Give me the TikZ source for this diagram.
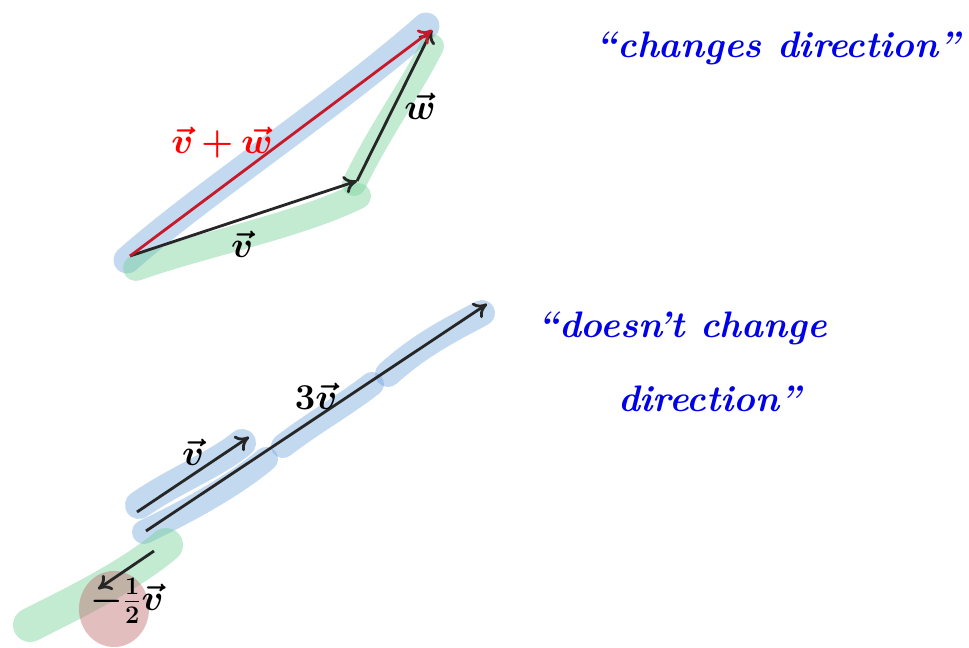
\documentclass[tikz,border=0pt]{standalone}
\usepackage{bm}
\usetikzlibrary{arrows.meta,positioning}

\definecolor{hlblue}{RGB}{110,165,220}
\definecolor{hlgreen}{RGB}{120,210,155}
\definecolor{hlred}{RGB}{190,110,110}
\definecolor{sumred}{RGB}{200,25,40}
\definecolor{penblue}{RGB}{0,0,235}

\begin{document}
\begin{tikzpicture}[
  x=0.02cm, y=-0.02cm,
  vec/.style={-{To[length=2.6mm,width=3.6mm]}, line width=1.6pt, draw=#1},
  vec/.default=black!85,
  hiblue/.style={line width=#1*0.02cm, line cap=round, line join=round, draw=hlblue, opacity=0.42},
  higreen/.style={line width=#1*0.02cm, line cap=round, line join=round, draw=hlgreen, opacity=0.45},
  lbl/.style={inner sep=1pt, font=\fontsize{21}{25}\selectfont},
  hand/.style={text=penblue, font=\fontsize{21}{26}\selectfont\bfseries\itshape, align=center}
]
  \useasboundingbox (0,0) rectangle (969,648);

  % highlighter strokes, top
  \draw[hiblue=27] (127,260) .. controls (200,195) and (330,110) .. (426,26);
  \draw[higreen=26] (136,268) .. controls (200,245) and (300,225) .. (358,196);
  \draw[higreen=24] (354,184) .. controls (380,130) and (410,90) .. (432,46);

  % highlighter strokes, bottom
  \draw[hiblue=28] (139,505) .. controls (175,480) and (215,465) .. (242,443);
  \draw[hiblue=24] (144,532) .. controls (190,510) and (235,485) .. (266,459);
  \draw[hiblue=24] (283,446) .. controls (310,425) and (345,405) .. (372,384);
  \draw[hiblue=26] (388,374) .. controls (420,345) and (450,330) .. (482,313);
  \draw[higreen=34] (30,625) .. controls (80,600) and (130,575) .. (166,545);
  \fill[hlred, opacity=0.45] (114,609) ellipse [x radius=35, y radius=38];

  % vector sum
  \coordinate (o) at (130,256);
  \coordinate (vtip) at (357,181);
  \coordinate (wtip) at (432,30);
  \draw[vec] (o) -- (vtip);
  \draw[vec] (vtip) -- (wtip);
  \draw[vec=sumred] (o) -- (wtip);
  \node[lbl] (vlabel) at (242,244) {$\bm{\vec v}$};
  \node[lbl] (wlabel) at (420,106) {$\bm{\vec w}$};
  \node[lbl, text=red] (sumlabel) at (222,143) {$\bm{\vec v + \vec w}$};

  % scalar multiples
  \coordinate (a0) at (137,512);
  \coordinate (a1) at (249,437);
  \coordinate (b0) at (146,531);
  \coordinate (b1) at (487,304);
  \coordinate (c0) at (154,551);
  \coordinate (c1) at (98,589);
  \draw[vec] (a0) -- (a1);
  \draw[vec] (b0) -- (b1);
  \draw[vec] (c0) -- (c1);
  \node[lbl] (alabel) at (193,452) {$\bm{\vec v}$};
  \node[lbl] (blabel) at (316,396) {$\bm{3\vec v}$};
  \node[lbl] (clabel) at (127,601) {$\bm{-\frac{1}{2}\vec v}$};

  % handwritten notes
  \node[hand] (note1) at (778,48) {``changes direction''};
  \node[hand] (note2) at (682,362) {``doesn't change\\[16pt]\hspace*{1.5em}direction''};
\end{tikzpicture}
\end{document}
